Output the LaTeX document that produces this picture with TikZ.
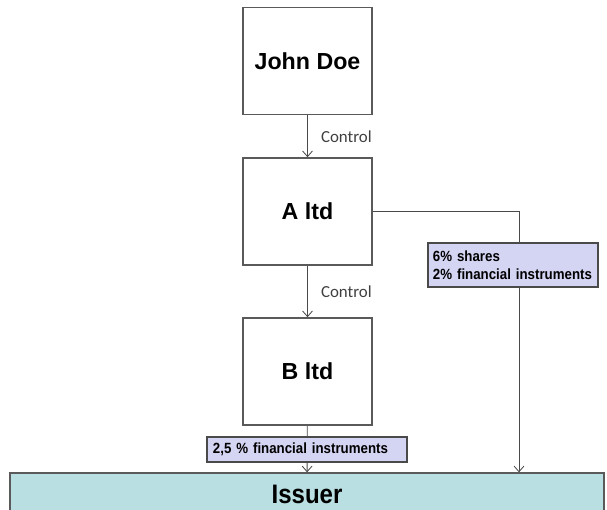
\documentclass[tikz,border=0pt]{standalone}
\usepackage{fontspec}
\setmainfont{Liberation Sans}
\newfontfamily\ctrlfont{Carlito}
\newfontfamily\narrowfont{Liberation Sans}[FakeStretch=0.9]
\usetikzlibrary{arrows.meta,positioning}

\definecolor{linegray}{HTML}{4A4A4A}
\definecolor{boxgray}{HTML}{5A5A5A}
\definecolor{lavender}{HTML}{D4D4F3}
\definecolor{issuerblue}{HTML}{B9DFE2}

\tikzset{
  entity/.style={draw=boxgray, line width=0.9pt, fill=white,
    minimum width=3.225cm, minimum height=2.68cm,
    font=\fontsize{16.5}{18}\selectfont\bfseries},
  holding/.style={draw=linegray, line width=0.8pt, fill=lavender,
    align=left, inner ysep=0pt,
    font=\narrowfont\fontsize{10.5}{12.5}\selectfont\bfseries},
  link/.style={draw=linegray, line width=0.6pt,
    -{Straight Barb[length=4pt,width=7pt]}},
  ctrl/.style={right=6pt, text=black!75, font=\ctrlfont\fontsize{12}{14}\selectfont}
}

\begin{document}
\begin{tikzpicture}[x=0.025cm, y=-0.025cm]
    \useasboundingbox (0,0) rectangle (607,510);

    % Entidades
    \node[entity] (john) at (307.5,61) {John Doe};
    \node[entity] (altd) at (307.5,211.5) {A ltd};
    \node[entity] (bltd) at (307.5,371.5) {B ltd};

    % Emisor
    \node[draw=boxgray, line width=0.9pt, fill=issuerblue,
          minimum width=14.85cm, minimum height=1.05cm,
          font=\narrowfont\fontsize{19}{21}\selectfont\bfseries] (issuer) at (307,494) {Issuer};

    % Control
    \draw[link] (john) -- node[ctrl] {Control} (altd);
    \draw[link] (altd) -- node[ctrl] {Control} (bltd);

    % Participaciones
    \coordinate (drop) at (519,212);
    \draw[link] (altd.east) -| (drop |- issuer.north);
    \draw[link] (bltd) -- (issuer);

    % Etiquetas
    \node[holding, text width=4.7cm, inner xsep=0.15cm, minimum height=0.625cm]
        (bshare) at (307,449.5) {2,5 \% financial instruments};
    \node[holding, text width=4cm, inner xsep=0.125cm, minimum height=1.1cm]
        (ashare) at (513,265) {6\% shares\\2\% financial instruments};
\end{tikzpicture}
\end{document}
